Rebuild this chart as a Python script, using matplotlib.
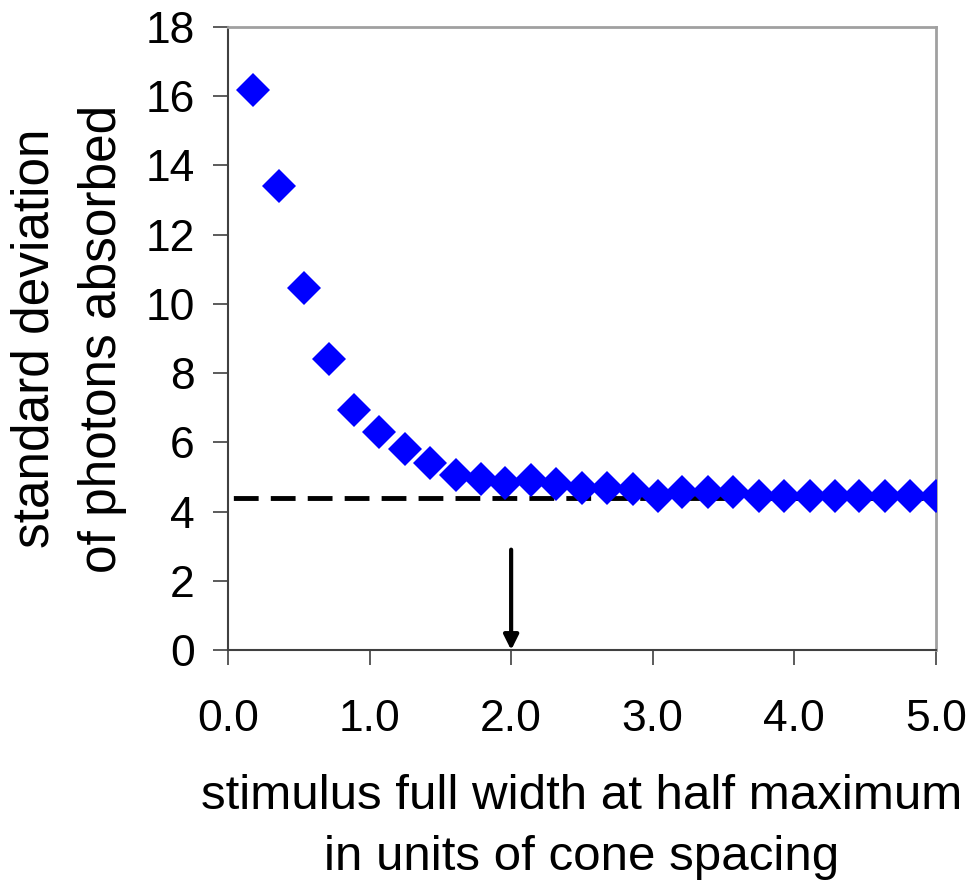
import numpy as np
import matplotlib
matplotlib.use("Agg")
import matplotlib.pyplot as plt

plt.rcParams['font.family'] = ['Liberation Sans', 'DejaVu Sans']

# stimulus width (cone spacings) and sd of photons absorbed
fwhm = [0.18, 0.36, 0.54, 0.71, 0.89, 1.07, 1.25, 1.43, 1.61, 1.79,
        1.96, 2.14, 2.32, 2.50, 2.68, 2.86, 3.04, 3.21, 3.39, 3.57,
        3.75, 3.93, 4.11, 4.29, 4.46, 4.64, 4.82, 5.00]
sd = [16.18, 13.42, 10.46, 8.41, 6.94, 6.30, 5.81, 5.40, 5.06, 4.94,
      4.83, 4.90, 4.80, 4.68, 4.68, 4.65, 4.45, 4.57, 4.57, 4.57,
      4.45, 4.45, 4.45, 4.45, 4.45, 4.45, 4.45, 4.45]
asymptote = 4.4
arrow_x = 2.0
arrow_top = 2.9

xticks = [0.0, 1.0, 2.0, 3.0, 4.0, 5.0]
yticks = [0, 2, 4, 6, 8, 10, 12, 14, 16, 18]

fig = plt.figure(figsize=(9.71, 8.88), dpi=100)
ax = fig.add_axes([0.2348, 0.268, 0.729, 0.7016])

ax.plot([0, 5], [asymptote, asymptote], color='black', lw=3.5,
        ls=(6.5, (5.1, 2.5)), zorder=2)
ax.plot(fwhm, sd, ls='none', marker='D', ms=17.5, color='#0000ff',
        markeredgewidth=0, zorder=3)
ax.annotate('', xy=(arrow_x, 0), xytext=(arrow_x, arrow_top),
            arrowprops=dict(arrowstyle='-|>', lw=3, color='black',
                            mutation_scale=22, shrinkA=0, shrinkB=0),
            zorder=4)

ax.set_xlim(0, 5)
ax.set_ylim(0, 18)
ax.set_xticks(xticks)
ax.set_xticklabels(['%.1f' % v for v in xticks])
ax.set_yticks(yticks)

for s in ['left', 'bottom']:
    ax.spines[s].set_color('#404040')
    ax.spines[s].set_linewidth(1.5)
for s in ['top', 'right']:
    ax.spines[s].set_color('#a0a0a0')
    ax.spines[s].set_linewidth(2)

ax.tick_params(axis='y', direction='out', length=11, width=1.2,
               color='#404040', labelsize=32, pad=13)
ax.tick_params(axis='x', direction='out', length=11, width=1.2,
               color='#404040', labelsize=32, pad=24)

ax.set_xlabel('stimulus full width at half maximum\nin units of cone spacing',
              fontsize=35.5, labelpad=25, linespacing=1.45)
ax.set_ylabel('standard deviation\nof photons absorbed', fontsize=37,
              labelpad=13, linespacing=1.5)

fig.savefig('out.png', dpi=100)
